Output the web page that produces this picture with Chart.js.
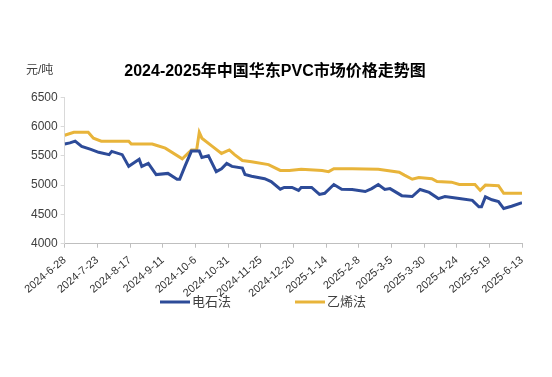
<!DOCTYPE html>
<html>
<head>
<meta charset="utf-8">
<script src="https://cdn.jsdelivr.net/npm/chart.js@4.4.1/dist/chart.umd.min.js"></script>
<style>
  html, body { margin: 0; padding: 0; background: #fff; }
  #wrap { width: 552px; height: 377px; }
</style>
</head>
<body>
<div id="wrap"><canvas id="pvcChart"></canvas></div>
<script>
// day offsets from 2024-6-28
const startDate = new Date(2024, 5, 28);

const dianshiDays = [0, 4, 8, 13, 20, 26, 34, 36, 44, 49, 57, 59, 64, 70, 79, 86, 88, 92, 97, 103, 105, 110, 116, 120,
    124, 128, 136, 138, 143, 153, 158, 165, 168, 174, 179, 181, 189, 195, 199, 206, 212, 220, 230, 235, 240, 245,
    249, 258, 266, 272, 279, 286, 291, 302, 312, 317, 319, 322, 327, 332, 336, 342, 350];
const dianshiPrices = [5700, 5720, 5750, 5660, 5610, 5560, 5520, 5575, 5520, 5320, 5440, 5320, 5370, 5180, 5200, 5100, 5100, 5320, 5580, 5580, 5470, 5500, 5230, 5280,
    5370, 5320, 5290, 5180, 5150, 5110, 5060, 4930, 4960, 4960, 4910, 4960, 4960, 4840, 4860, 5010, 4930, 4925, 4890, 4940, 5010, 4925,
    4940, 4820, 4805, 4925, 4875, 4770, 4805, 4770, 4740, 4630, 4630, 4800, 4750, 4720, 4600, 4640, 4700];

const yixiDays = [0, 7, 18, 22, 28, 49, 51, 67, 70, 77, 90, 97, 101, 103, 105, 113, 120, 126, 130, 136, 143, 156, 165, 172,
    181, 197, 202, 206, 220, 240, 256, 260, 266, 271, 281, 285, 296, 302, 314, 318, 322, 332, 336, 350];
const yixiPrices = [5850, 5900, 5900, 5800, 5750, 5750, 5700, 5700, 5680, 5630, 5450, 5600, 5600, 5900, 5800, 5660, 5540, 5600, 5520, 5420, 5400, 5350, 5250, 5250,
    5270, 5250, 5230, 5280, 5280, 5270, 5220, 5170, 5100, 5130, 5110, 5060, 5050, 5010, 5010, 4910, 5000, 4990, 4860, 4860];

const yTicks = [4000, 4500, 5000, 5500, 6000, 6500];

function dayLabel(d) {
    const dt = new Date(startDate.getTime());
    dt.setDate(dt.getDate() + d);
    return dt.getFullYear() + "-" + (dt.getMonth() + 1) + "-" + dt.getDate();
}

function toPoints(days, prices) {
    return days.map(function (d, i) { return { x: d, y: prices[i] }; });
}

const fontFamily = "'Liberation Sans', Arial, 'Noto Sans CJK SC', sans-serif";

// unit text and the legend row under the axis labels
const extras = {
    id: "extras",
    afterDraw: function (chart) {
        const ctx = chart.ctx;
        ctx.save();
        ctx.font = "12px " + fontFamily;
        ctx.fillStyle = "#404040";
        ctx.textBaseline = "middle";
        ctx.fillText("元/吨", 26, 71);

        const legendY = 302;
        let x = chart.width / 2 - 116;
        ctx.font = "13px " + fontFamily;
        chart.data.datasets.forEach(function (ds) {
            ctx.strokeStyle = ds.borderColor;
            ctx.lineWidth = 3;
            ctx.beginPath();
            ctx.moveTo(x, legendY);
            ctx.lineTo(x + 30, legendY);
            ctx.stroke();
            ctx.fillStyle = "#404040";
            ctx.fillText(ds.label, x + 32, legendY);
            x += 135;
        });
        ctx.restore();
    }
};

new Chart(document.getElementById("pvcChart"), {
    type: "line",
    data: {
        datasets: [{
            label: "电石法",
            data: toPoints(dianshiDays, dianshiPrices),
            borderColor: "#2d4b98",
            backgroundColor: "#2d4b98",
            borderWidth: 3,
            pointRadius: 0,
            tension: 0
        }, {
            label: "乙烯法",
            data: toPoints(yixiDays, yixiPrices),
            borderColor: "#e8b43a",
            backgroundColor: "#e8b43a",
            borderWidth: 3,
            pointRadius: 0,
            tension: 0
        }]
    },
    options: {
        responsive: true,
        maintainAspectRatio: false,
        animation: false,
        layout: { padding: { left: 28, right: 30, top: 0, bottom: 71 } },
        plugins: {
            title: {
                display: true,
                text: "2024-2025年中国华东PVC市场价格走势图",
                color: "#000",
                font: { family: fontFamily, size: 16, weight: "bold" },
                padding: { top: 62, bottom: 16 }
            },
            legend: { display: false },
            tooltip: { enabled: false }
        },
        scales: {
            x: {
                type: "linear",
                min: 0,
                max: 350,
                grid: { drawOnChartArea: false, color: "#bfbfbf", tickLength: 4 },
                border: { color: "#bfbfbf" },
                ticks: {
                    stepSize: 25,
                    autoSkip: false,
                    minRotation: 40,
                    maxRotation: 40,
                    padding: 6,
                    color: "#333",
                    font: { family: fontFamily, size: 11 },
                    callback: function (v) { return dayLabel(v); }
                }
            },
            y: {
                min: 4000,
                max: 6500,
                afterBuildTicks: function (axis) {
                    axis.ticks = yTicks.map(function (v) { return { value: v }; });
                },
                grid: { drawOnChartArea: false, color: "#d9d9d9", tickLength: 4 },
                border: { color: "#d9d9d9" },
                ticks: {
                    autoSkip: false,
                    color: "#404040",
                    font: { family: fontFamily, size: 12 },
                    callback: function (v) { return String(v); }
                }
            }
        }
    },
    plugins: [extras]
});
</script>
</body>
</html>
